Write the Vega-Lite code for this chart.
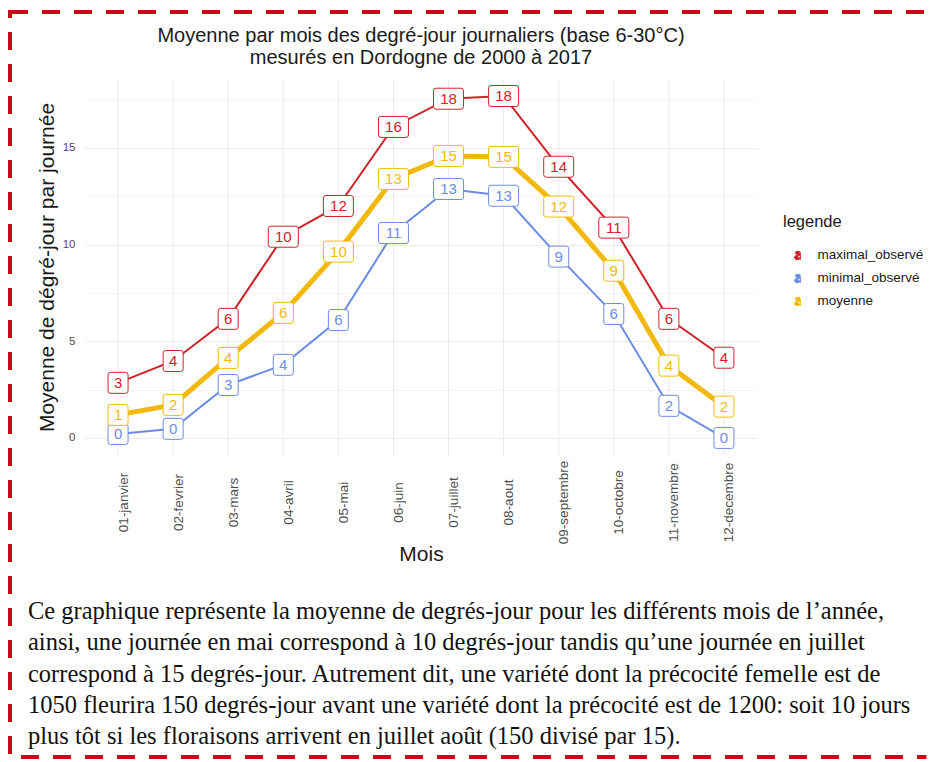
{
  "$schema": "https://vega.github.io/schema/vega-lite/v6.json",
  "width": 922,
  "height": 745,
  "autosize": "none",
  "padding": {"left": 10, "top": 12, "right": 0, "bottom": 5},
  "background": "white",
  "title": {
    "text": ["Moyenne par mois des degré-jour journaliers (base 6-30°C)", "mesurés en Dordogne de 2000 à 2017"],
    "anchor": "middle",
    "frame": "group",
    "fontSize": 20,
    "fontWeight": "normal",
    "font": "Liberation Sans",
    "color": "#1a1a1a",
    "lineHeight": 22,
    "dx": -50,
    "offset": -76,
    "baseline": "bottom"
  },
  "layer": [
    {
      "data": {"values": [
        {"m": "01-janvier", "s": "maximal_observé", "v": 2.85},
        {"m": "02-fevrier", "s": "maximal_observé", "v": 3.98},
        {"m": "03-mars", "s": "maximal_observé", "v": 6.16},
        {"m": "04-avril", "s": "maximal_observé", "v": 10.41},
        {"m": "05-mai", "s": "maximal_observé", "v": 12.0},
        {"m": "06-juin", "s": "maximal_observé", "v": 16.09},
        {"m": "07-juillet", "s": "maximal_observé", "v": 17.55},
        {"m": "08-aout", "s": "maximal_observé", "v": 17.69},
        {"m": "09-septembre", "s": "maximal_observé", "v": 14.03},
        {"m": "10-octobre", "s": "maximal_observé", "v": 10.88},
        {"m": "11-novembre", "s": "maximal_observé", "v": 6.16},
        {"m": "12-decembre", "s": "maximal_observé", "v": 4.15},
        {"m": "01-janvier", "s": "minimal_observé", "v": 0.2},
        {"m": "02-fevrier", "s": "minimal_observé", "v": 0.47},
        {"m": "03-mars", "s": "minimal_observé", "v": 2.74},
        {"m": "04-avril", "s": "minimal_observé", "v": 3.78},
        {"m": "05-mai", "s": "minimal_observé", "v": 6.1},
        {"m": "06-juin", "s": "minimal_observé", "v": 10.6},
        {"m": "07-juillet", "s": "minimal_observé", "v": 12.88},
        {"m": "08-aout", "s": "minimal_observé", "v": 12.53},
        {"m": "09-septembre", "s": "minimal_observé", "v": 9.38},
        {"m": "10-octobre", "s": "minimal_observé", "v": 6.41},
        {"m": "11-novembre", "s": "minimal_observé", "v": 1.66},
        {"m": "12-decembre", "s": "minimal_observé", "v": 0.0},
        {"m": "01-janvier", "s": "moyenne", "v": 1.19},
        {"m": "02-fevrier", "s": "moyenne", "v": 1.71},
        {"m": "03-mars", "s": "moyenne", "v": 4.14},
        {"m": "04-avril", "s": "moyenne", "v": 6.47},
        {"m": "05-mai", "s": "moyenne", "v": 9.64},
        {"m": "06-juin", "s": "moyenne", "v": 13.4},
        {"m": "07-juillet", "s": "moyenne", "v": 14.59},
        {"m": "08-aout", "s": "moyenne", "v": 14.54},
        {"m": "09-septembre", "s": "moyenne", "v": 11.97},
        {"m": "10-octobre", "s": "moyenne", "v": 8.65},
        {"m": "11-novembre", "s": "moyenne", "v": 3.74},
        {"m": "12-decembre", "s": "moyenne", "v": 1.62}
      ]},
      "encoding": {
        "x": {
          "field": "m", "type": "nominal",
          "scale": {"type": "point", "padding": 0.6, "range": [75, 747]},
          "axis": {
            "title": "Mois", "orient": "bottom", "offset": -302,
            "domain": false, "ticks": false, "tickSize": 0, "grid": false,
            "labelAngle": 270, "labelAlign": "center", "labelBaseline": "middle",
            "labelPadding": 47, "labelOffset": 5,
            "labelFontSize": 13.5, "labelColor": "#4d4d4d", "labelFont": "Liberation Sans",
            "labelOverlap": false, "labelBound": false,
            "titleFont": "Liberation Sans", "titleFontSize": 21, "titleFontWeight": "normal",
            "titleColor": "#1a1a1a", "titlePadding": 0
          }
        },
        "y": {
          "field": "v", "type": "quantitative",
          "scale": {"domain": [-0.884, 18.57], "range": [443, 67], "nice": false, "zero": false},
          "axis": {
            "title": "Moyenne de dégré-jour par journée", "orient": "left", "offset": -75,
            "domain": false, "ticks": false, "tickSize": 0,
            "grid": true, "gridColor": "#ebebeb",
            "gridWidth": {"condition": {"test": "datum.value % 5 === 0", "value": 1.1}, "value": 0.55},
            "values": [0, 2.5, 5, 7.5, 10, 12.5, 15, 17.5],
            "labelExpr": "datum.value % 5 === 0 ? datum.label : ''",
            "labelPadding": 10, "labelFontSize": 11.5, "labelColor": "#4d4d4d", "labelFont": "Liberation Sans",
            "labelOverlap": false, "labelFlush": false, "labelBound": false,
            "titleFont": "Liberation Sans", "titleFontSize": 21, "titleFontWeight": "normal",
            "titleColor": "#1a1a1a", "titlePadding": 5
          }
        },
        "color": {
          "field": "s", "type": "nominal",
          "scale": {"domain": ["maximal_observé", "minimal_observé", "moyenne"], "range": ["#CF2229", "#6C8CE6", "#F2B90C"]},
          "legend": {
            "orient": "none", "legendX": 773, "legendY": 202, "title": "legende", "padding": 0,
            "titleFont": "Liberation Sans", "titleFontSize": 16.5, "titleFontWeight": "normal", "titleColor": "#1a1a1a", "titlePadding": 18,
            "labelFont": "Liberation Sans", "labelFontSize": 13.5, "labelColor": "#1a1a1a", "labelOffset": 13,
            "rowPadding": 8, "symbolOffset": 8, "symbolSize": 100, "symbolStrokeWidth": 1.2,
            "symbolType": "M-0.5,-0.4 C-0.45,-0.7 -0.2,-0.8 0,-0.8 C0.35,-0.8 0.5,-0.6 0.5,-0.3 L0.5,0.55 C0.5,0.7 0.55,0.8 0.62,0.85 M0.5,-0.05 C0.1,0 -0.6,0 -0.6,0.42 C-0.6,0.7 -0.35,0.85 -0.1,0.85 C0.25,0.85 0.5,0.6 0.5,0.35",
            "encode": {"symbols": {"update": {"fill": {"value": "transparent"}, "stroke": {"scale": "color", "field": "value"}, "strokeWidth": {"value": 1.2}, "opacity": {"value": 1}}}}
          }
        }
      },
      "layer": [
        {
          "transform": [{"filter": "datum.s === 'moyenne'"}],
          "mark": {"type": "rule", "strokeWidth": 1.1},
          "encoding": {
            "y": {"datum": -0.884, "type": "quantitative"},
            "y2": {"datum": 18.57},
            "color": {"value": "#ebebeb"}
          }
        },
        {
          "mark": {"type": "line"},
          "encoding": {"strokeWidth": {"condition": {"test": "datum.s === 'moyenne'", "value": 5}, "value": 2}}
        },
        {
          "mark": {"type": "point", "filled": false, "fill": "white", "size": 400, "strokeWidth": 1, "opacity": 1},
          "encoding": {
            "shape": {
              "condition": {"test": "datum.v >= 9.5", "value": "M-1.25,-1.05 L1.25,-1.05 Q1.5,-1.05 1.5,-0.8 L1.5,0.8 Q1.5,1.05 1.25,1.05 L-1.25,1.05 Q-1.5,1.05 -1.5,0.8 L-1.5,-0.8 Q-1.5,-1.05 -1.25,-1.05 Z"},
              "value": "M-0.75,-1.05 L0.75,-1.05 Q1,-1.05 1,-0.8 L1,0.8 Q1,1.05 0.75,1.05 L-0.75,1.05 Q-1,1.05 -1,0.8 L-1,-0.8 Q-1,-1.05 -0.75,-1.05 Z"
            }
          }
        },
        {
          "mark": {"type": "text", "fontSize": 15, "font": "Liberation Sans", "baseline": "middle", "align": "center"},
          "encoding": {"text": {"field": "v", "type": "quantitative", "format": ".0f"}}
        }
      ]
    },
    {
      "data": {"values": [
        {"ligne": 1, "t": "Ce graphique représente la moyenne de degrés-jour pour les différents mois de l’année,"},
        {"ligne": 2, "t": "ainsi, une journée en mai correspond à 10 degrés-jour tandis qu’une journée en juillet"},
        {"ligne": 3, "t": "correspond à 15 degrés-jour. Autrement dit, une variété dont la précocité femelle est de"},
        {"ligne": 4, "t": "1050 fleurira 150 degrés-jour avant une variété dont la précocité est de 1200: soit 10 jours"},
        {"ligne": 5, "t": "plus tôt si les floraisons arrivent en juillet août (150 divisé par 15)."}
      ]},
      "mark": {"type": "text", "align": "left", "baseline": "middle", "font": "Liberation Serif", "fontSize": 24.5, "color": "#111111"},
      "encoding": {
        "x": {"value": 18},
        "y": {"field": "ligne", "type": "ordinal", "scale": {"type": "point", "range": [600, 725], "padding": 0}, "axis": null},
        "text": {"field": "t"}
      }
    }
  ],
  "resolve": {"scale": {"y": "independent"}},
  "config": {
    "font": "Liberation Sans",
    "view": {
      "stroke": {
        "gradient": "linear", "x1": 0, "y1": 0, "x2": 1, "y2": 0,
        "stops": [
          {"offset": 0, "color": "#CC0A16"},
          {"offset": 0.993, "color": "#CC0A16"},
          {"offset": 0.995, "color": "#ffffff"},
          {"offset": 1, "color": "#ffffff"}
        ]
      },
      "strokeWidth": 4, "fill": "white",
      "strokeDash": [18, 14]
    }
  }
}
